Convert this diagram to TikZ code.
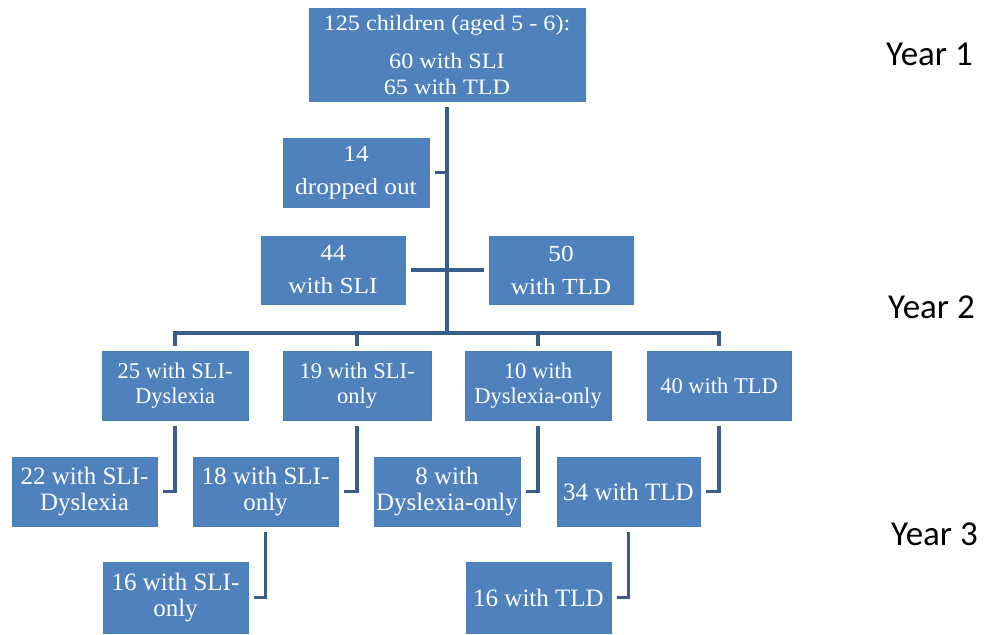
\documentclass[tikz,border=0pt]{standalone}
\usepackage{fontspec}
\setmainfont{Liberation Serif}
\newfontfamily\widefont{Liberation Serif}[FakeStretch=1.1]
\newfontfamily\yearfont{Carlito}
\definecolor{boxblue}{HTML}{4F81BD}
\definecolor{boxedge}{HTML}{4A7DBA}
\definecolor{linkblue}{HTML}{385D8A}
\tikzset{
  box/.style={fill=boxblue, draw=boxedge, line width=0.8pt, text=white,
    inner sep=0pt, outer sep=5.5pt, align=center},
  topbox/.style={box, font=\widefont\fontsize{22}{26}\selectfont},
  midbox/.style={box, font=\widefont\fontsize{23}{33}\selectfont},
  rowtwo/.style={box, minimum height=69pt, font=\fontsize{22.5}{24.5}\selectfont},
  rowthree/.style={box, minimum height=69pt, font=\fontsize{25}{26}\selectfont},
  rowfour/.style={box, minimum height=71pt, font=\fontsize{25}{26}\selectfont},
  conn/.style={draw=linkblue, line width=3.8pt},
  yearlbl/.style={anchor=base west, inner sep=0pt, text=black,
    font=\yearfont\fontsize{35}{40}\selectfont}
}
\begin{document}
\begin{tikzpicture}[x=1pt, y=-1pt]
\useasboundingbox (0,0) rectangle (989,635);
\fill[white] (0,0) rectangle (989,635);

% Year 1
\node[topbox, minimum width=276pt, minimum height=93pt] (top) at (447,54.5)
  {125 children (aged 5 - 6):\\[12pt]60 with SLI\\65 with TLD};
\node[midbox, minimum width=146pt, minimum height=69pt] (drop) at (356,172.5)
  {14\\dropped out};
\node[midbox, minimum width=144pt, minimum height=68pt] (sli) at (333,270)
  {44\\with SLI};
\node[midbox, minimum width=144pt, minimum height=68pt] (tld) at (561,270)
  {50\\with TLD};

% Year 2 row
\node[rowtwo, minimum width=146pt] (ra) at (175,385.5) {25 with SLI-\\Dyslexia};
\node[rowtwo, minimum width=148pt] (rb) at (357,385.5) {19 with SLI-\\only};
\node[rowtwo, minimum width=146pt] (rc) at (538,385.5) {10 with\\Dyslexia-only};
\node[rowtwo, minimum width=144pt] (rd) at (719,385.5) {40 with TLD};

% Year 3 rows
\node[rowthree, minimum width=145pt] (sa) at (84.5,491.5) {22 with SLI-\\Dyslexia};
\node[rowthree, minimum width=145pt] (sb) at (265.5,491.5) {18 with SLI-\\only};
\node[rowthree, minimum width=146pt] (sc) at (447,491.5) {8 with\\Dyslexia-only};
\node[rowthree, minimum width=143pt] (sd) at (628.5,491.5) {34 with TLD};

\node[rowfour, minimum width=145pt] (ta) at (175.5,597.5) {16 with SLI-\\only};
\node[rowfour, minimum width=145pt] (tb) at (538.5,597.5) {16 with TLD};

% year labels
\node[yearlbl] (y1) at (886,65) {Year 1};
\node[yearlbl] (y2) at (888,318) {Year 2};
\node[yearlbl] (y3) at (891,545) {Year 3};

% connectors
\coordinate (busmid) at (447,333);
\draw[conn] (top.south) -- (busmid);
\draw[conn] (drop.east) -- (drop.east -| busmid);
\draw[conn] (sli.east) -- (tld.west);
\draw[conn] (ra.north) |- (busmid) -| (rd.north);
\draw[conn] (rb.north) -- (rb.north |- busmid);
\draw[conn] (rc.north) -- (rc.north |- busmid);
\draw[conn] (ra.south) |- (sa.east);
\draw[conn] (rb.south) |- (sb.east);
\draw[conn] (rc.south) |- (sc.east);
\draw[conn] (rd.south) |- (sd.east);
\draw[conn] (sb.south) |- (ta.east);
\draw[conn] (sd.south) |- (tb.east);
\end{tikzpicture}
\end{document}
